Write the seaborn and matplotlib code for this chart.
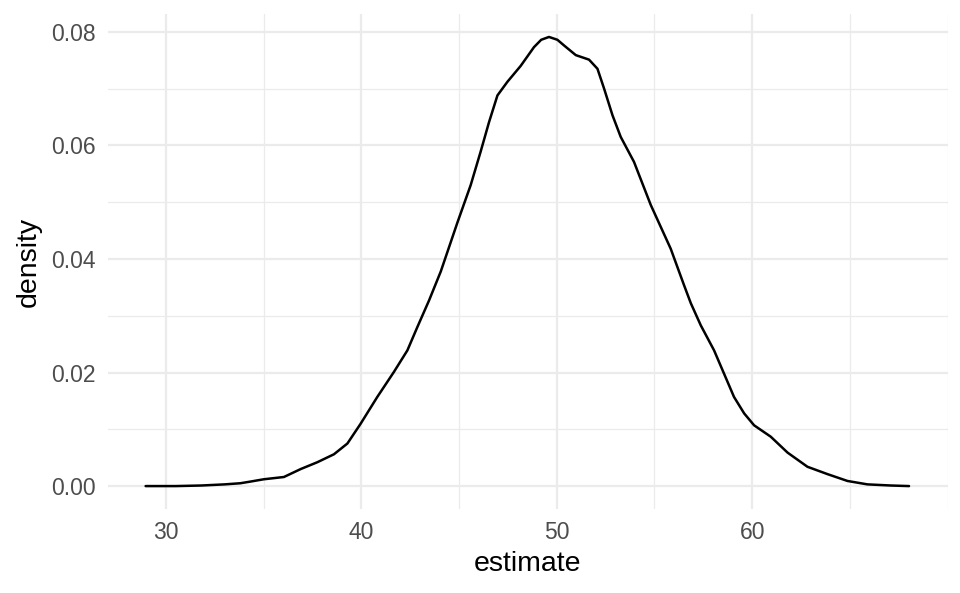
import matplotlib
matplotlib.use("Agg")
import matplotlib.pyplot as plt
import seaborn as sns
import pandas as pd
from matplotlib.ticker import MultipleLocator

# valores (curva de densidad)
estimate = [28.95, 30.5, 31.8, 33.0, 33.8, 34.33, 35.0, 36.03, 36.89, 37.74,
            38.59, 39.28, 39.96, 40.81, 41.66, 42.35, 42.86, 43.46, 44.06, 44.91,
            45.59, 46.1, 46.53, 46.96, 47.47, 48.15, 48.83, 49.2, 49.6, 50.03,
            50.37, 50.97, 51.65, 52.08, 52.42, 52.85, 53.27, 53.95, 54.81, 55.83,
            56.51, 56.86, 57.37, 58.05, 58.56, 59.07, 59.59, 60.1, 60.95, 61.81,
            62.83, 63.86, 64.88, 65.9, 67.1, 68.03]
density = [0.0, 0.0, 0.0001, 0.0003, 0.0005, 0.0008, 0.0012, 0.0016, 0.003, 0.0042,
           0.0056, 0.0075, 0.011, 0.0157, 0.0201, 0.0239, 0.028, 0.0327, 0.0378, 0.0464,
           0.053, 0.0589, 0.0641, 0.0688, 0.0712, 0.074, 0.0773, 0.0786, 0.0791, 0.0786,
           0.0776, 0.0759, 0.0751, 0.0735, 0.070, 0.0653, 0.0615, 0.0571, 0.0495, 0.0418,
           0.0354, 0.0322, 0.0283, 0.0239, 0.0198, 0.0157, 0.0128, 0.0107, 0.0087, 0.0059,
           0.0034, 0.0021, 0.0009, 0.0003, 0.0001, 0.0]

x_ticks = [30, 40, 50, 60]
y_ticks = [0.00, 0.02, 0.04, 0.06, 0.08]

df = pd.DataFrame({"estimate": estimate, "density": density})

sns.set_style("white")
plt.rcParams["font.family"] = ["Liberation Sans", "DejaVu Sans"]

fig = plt.figure(figsize=(9.6, 5.93), dpi=100)
ax = fig.add_axes([0.112, 0.142, 0.875, 0.834])

sns.lineplot(data=df, x="estimate", y="density", color="black", linewidth=1.8,
             solid_joinstyle="round", ax=ax)

ax.set_xlim(27.0, 70.0)
ax.set_ylim(-0.004, 0.0831)
ax.set_xticks(x_ticks)
ax.set_yticks(y_ticks)
ax.set_yticklabels([f"{v:.2f}" for v in y_ticks])
ax.xaxis.set_minor_locator(MultipleLocator(5))
ax.yaxis.set_minor_locator(MultipleLocator(0.01))

ax.grid(True, which="major", color="#EBEBEB", linewidth=1.6)
ax.grid(True, which="minor", color="#EBEBEB", linewidth=0.9)
ax.set_axisbelow(True)
for s in ax.spines.values():
    s.set_visible(False)
ax.tick_params(which="both", length=0, labelsize=16.5, labelcolor="#4D4D4D", pad=8.5)

ax.set_xlabel("estimate", fontsize=20.5, color="black", labelpad=5)
ax.set_ylabel("density", fontsize=20.5, color="black", labelpad=7)

fig.savefig("out.png", dpi=100)
